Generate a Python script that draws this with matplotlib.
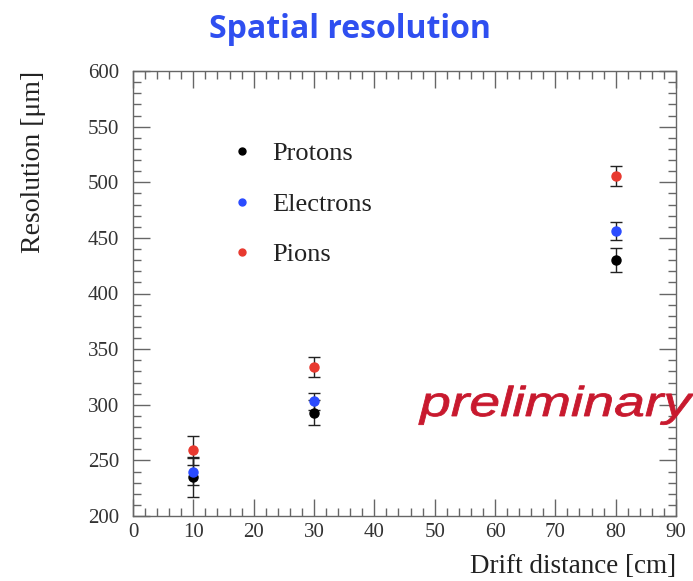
import numpy as np
import matplotlib
matplotlib.use('Agg')
import matplotlib.pyplot as plt
from matplotlib.ticker import MultipleLocator
from matplotlib.textpath import TextPath
from matplotlib.patches import PathPatch
from matplotlib.font_manager import FontProperties
from matplotlib.transforms import Affine2D
from matplotlib.lines import Line2D

# drift distance [cm]
drift = [10, 30, 80]

# resolution [um] and errors per particle type
protons = [235, 293, 430]
protons_err = [18, 11, 11]
electrons = [240, 303, 456]
electrons_err = [12, 8, 8]
pions = [259, 334, 506]
pions_err = [13, 9, 9]

series = [
    ('Protons', protons, protons_err, 'black'),
    ('Electrons', electrons, electrons_err, '#2a4bff'),
    ('Pions', pions, pions_err, '#e8392f'),
]

W, H = 693, 581
fig = plt.figure(figsize=(W/100, H/100), dpi=100)
ax = fig.add_axes([133/W, 1-516/H, (676-133)/W, (516-71)/H])

handles = []
for name, y, err, col in series:
    ax.errorbar(drift, y, yerr=err, fmt='o', color=col, ms=6.5, mec=col,
                ecolor='#222222', elinewidth=1, capsize=4, capthick=1)
    handles.append(Line2D([], [], ls='none', marker='o', ms=5, color=col, label=name))

ax.set_xlim(0, 90)
ax.set_ylim(200, 600)
ax.xaxis.set_major_locator(MultipleLocator(10))
ax.xaxis.set_minor_locator(MultipleLocator(2))
ax.yaxis.set_major_locator(MultipleLocator(50))
ax.yaxis.set_minor_locator(MultipleLocator(10))
ax.tick_params(which='both', direction='in', top=True, right=True, color='#666666')
ax.tick_params(which='major', length=12, width=1)
ax.tick_params(which='minor', length=6, width=1)
ax.tick_params(labelsize=15, labelcolor='#333333')
for lab in ax.get_xticklabels() + ax.get_yticklabels():
    lab.set_family('Liberation Serif')
ax.tick_params(axis='x', pad=5)
ax.tick_params(axis='y', pad=10)
for sp in ax.spines.values():
    sp.set_color('#666666')
    sp.set_linewidth(1)

ax.set_xlabel('Drift distance [cm]', family='Liberation Serif', fontsize=19.5,
              color='#222222', loc='right', labelpad=9)
ax.set_ylabel('Resolution [\u03bcm]', family='Liberation Serif', fontsize=20,
              color='#222222', loc='top', labelpad=30)

leg = ax.legend(handles=handles, loc='upper left', bbox_to_anchor=(229/W, 1-142/H),
                bbox_transform=fig.transFigure, frameon=False,
                prop=FontProperties(family='Liberation Serif', size=19),
                handlelength=1.0, handletextpad=0.65, labelspacing=1.02,
                borderpad=0, borderaxespad=0)
for t in leg.get_texts():
    t.set_color('#222222')

fig.text(350/W, 1-30/H, 'Spatial resolution', ha='center', va='center',
         family='Open Sans', fontweight='bold', fontsize=23, color='#2f4ff0')

# stretched italic overlay text
tp = TextPath((0, 0), 'preliminary', size=44,
              prop=FontProperties(family='Liberation Sans', style='italic'))
tr = Affine2D().scale(1.26, 0.95).translate(420, H - 416)
fig.patches.append(PathPatch(tp, transform=tr, facecolor='#c8192e',
                             edgecolor='#c8192e', linewidth=0.6,
                             figure=fig, zorder=5))

fig.savefig('out.png', dpi=100)
